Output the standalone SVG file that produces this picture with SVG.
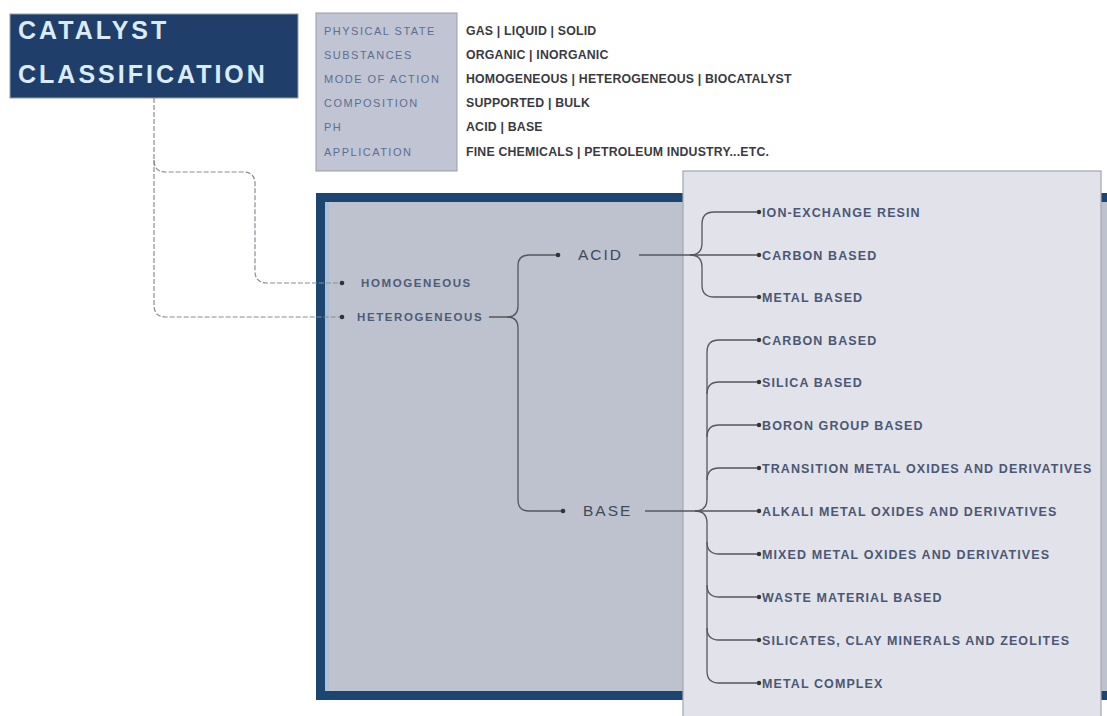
<svg xmlns="http://www.w3.org/2000/svg" width="1107" height="716" viewBox="0 0 1107 716">
<style>
.title{font-family:"Liberation Sans",Arial,sans-serif;font-size:25px;font-weight:bold;letter-spacing:3px;fill:#dcebf9}
.lgk{font-family:"Liberation Sans",Arial,sans-serif;font-size:11px;letter-spacing:1.5px;fill:#5c6e93}
.lgv{font-family:"Liberation Sans",Arial,sans-serif;font-size:12.3px;font-weight:bold;letter-spacing:0.2px;fill:#3a3a3e}
.mode{font-family:"Liberation Sans",Arial,sans-serif;font-size:11.5px;font-weight:bold;letter-spacing:1.6px;fill:#4d5b78}
.ph{font-family:"Liberation Sans",Arial,sans-serif;font-size:15.5px;letter-spacing:2px;fill:#3e4859}
.item{font-family:"Liberation Sans",Arial,sans-serif;font-size:12.5px;font-weight:bold;letter-spacing:1.1px;fill:#4b5774}
.dash{fill:none;stroke:#8a8c94;stroke-width:1.2;stroke-dasharray:5 2}
.con{fill:none;stroke:#55575e;stroke-width:1.3}
.dot{fill:#333}
</style>
<rect width="1107" height="716" fill="#ffffff"/>

<g id="title">
<rect x="10" y="14" width="288" height="84" fill="#1f3e6a" stroke="#9a9ca4" stroke-width="1"/>
<text class="title" x="18" y="39">CATALYST</text>
<text class="title" x="18" y="83">CLASSIFICATION</text>
</g>

<g id="legend">
<rect x="316" y="13" width="141" height="158" fill="#c1c4d3" stroke="#9a9ca6" stroke-width="1"/>
<text class="lgk" x="324" y="35">PHYSICAL STATE</text>
<text class="lgk" x="324" y="59">SUBSTANCES</text>
<text class="lgk" x="324" y="83">MODE OF ACTION</text>
<text class="lgk" x="324" y="107">COMPOSITION</text>
<text class="lgk" x="324" y="131">PH</text>
<text class="lgk" x="324" y="156">APPLICATION</text>
<text class="lgv" x="466" y="35">GAS | LIQUID | SOLID</text>
<text class="lgv" x="466" y="59">ORGANIC | INORGANIC</text>
<text class="lgv" x="466" y="83">HOMOGENEOUS | HETEROGENEOUS | BIOCATALYST</text>
<text class="lgv" x="466" y="107">SUPPORTED | BULK</text>
<text class="lgv" x="466" y="131">ACID | BASE</text>
<text class="lgv" x="466" y="156">FINE CHEMICALS | PETROLEUM INDUSTRY...ETC.</text>
</g>

<g id="frame">
<rect x="320.5" y="197.5" width="800" height="498" fill="#bec2ce" stroke="#1d4571" stroke-width="9"/>
<rect x="325" y="202" width="4" height="489" fill="#aebfd6"/>
</g>

<g id="panel">
<rect x="683" y="171" width="418" height="560" fill="#e2e2ea" stroke="#a6a7ae" stroke-width="1.2"/>
</g>

<g id="connectors">
<path class="dash" d="M154 98 V160 Q154 172 166 172 H243 Q255 172 255 184 V271 Q255 283 267 283 H340"/>
<path class="dash" d="M154 160 V305 Q154 317 166 317 H340"/>
<path class="con" d="M489 317 H507 Q518 317 518 306 V266 Q518 255 529 255 H556"/>
<path class="con" d="M507 317 Q518 317 518 328 V500 Q518 511 529 511 H561"/>
<path class="con" d="M639 255 H757"/>
<path class="con" d="M690 255 Q702 255 702 243 V224 Q702 212 714 212 H757"/>
<path class="con" d="M690 255 Q702 255 702 267 V285 Q702 297 714 297 H757"/>
<path class="con" d="M645 511 H757"/>
<path class="con" d="M695 511 Q707 511 707 499 V352 Q707 340 719 340 H757"/>
<path class="con" d="M707 394 Q707 382 719 382 H757"/>
<path class="con" d="M707 437 Q707 425 719 425 H757"/>
<path class="con" d="M707 480 Q707 468 719 468 H757"/>
<path class="con" d="M695 511 Q707 511 707 523 V671 Q707 683 719 683 H757"/>
<path class="con" d="M707 542 Q707 554 719 554 H757"/>
<path class="con" d="M707 585 Q707 597 719 597 H757"/>
<path class="con" d="M707 628 Q707 640 719 640 H757"/>
</g>

<g id="homogeneous">
<circle class="dot" cx="342" cy="283" r="2.3"/>
<text class="mode" x="361" y="287">HOMOGENEOUS</text>
</g>
<g id="heterogeneous">
<circle class="dot" cx="342" cy="317" r="2.3"/>
<text class="mode" x="357" y="321">HETEROGENEOUS</text>
</g>
<g id="acid">
<circle class="dot" cx="558" cy="255" r="2.3"/>
<text class="ph" x="578" y="260">ACID</text>
</g>
<g id="base">
<circle class="dot" cx="563" cy="511" r="2.3"/>
<text class="ph" x="583" y="516">BASE</text>
</g>

<g id="acid-items">
<circle class="dot" cx="759" cy="212" r="2.2"/><text class="item" x="762" y="216.5">ION-EXCHANGE RESIN</text>
<circle class="dot" cx="759" cy="255" r="2.2"/><text class="item" x="762" y="259.5">CARBON BASED</text>
<circle class="dot" cx="759" cy="297" r="2.2"/><text class="item" x="762" y="301.5">METAL BASED</text>
</g>
<g id="base-items">
<circle class="dot" cx="759" cy="340" r="2.2"/><text class="item" x="762" y="344.5">CARBON BASED</text>
<circle class="dot" cx="759" cy="382" r="2.2"/><text class="item" x="762" y="386.5">SILICA BASED</text>
<circle class="dot" cx="759" cy="425" r="2.2"/><text class="item" x="762" y="429.5">BORON GROUP BASED</text>
<circle class="dot" cx="759" cy="468" r="2.2"/><text class="item" x="762" y="472.5">TRANSITION METAL OXIDES AND DERIVATIVES</text>
<circle class="dot" cx="759" cy="511" r="2.2"/><text class="item" x="762" y="515.5">ALKALI METAL OXIDES AND DERIVATIVES</text>
<circle class="dot" cx="759" cy="554" r="2.2"/><text class="item" x="762" y="558.5">MIXED METAL OXIDES AND DERIVATIVES</text>
<circle class="dot" cx="759" cy="597" r="2.2"/><text class="item" x="762" y="601.5">WASTE MATERIAL BASED</text>
<circle class="dot" cx="759" cy="640" r="2.2"/><text class="item" x="762" y="644.5">SILICATES, CLAY MINERALS AND ZEOLITES</text>
<circle class="dot" cx="759" cy="683" r="2.2"/><text class="item" x="762" y="687.5">METAL COMPLEX</text>
</g>
</svg>
